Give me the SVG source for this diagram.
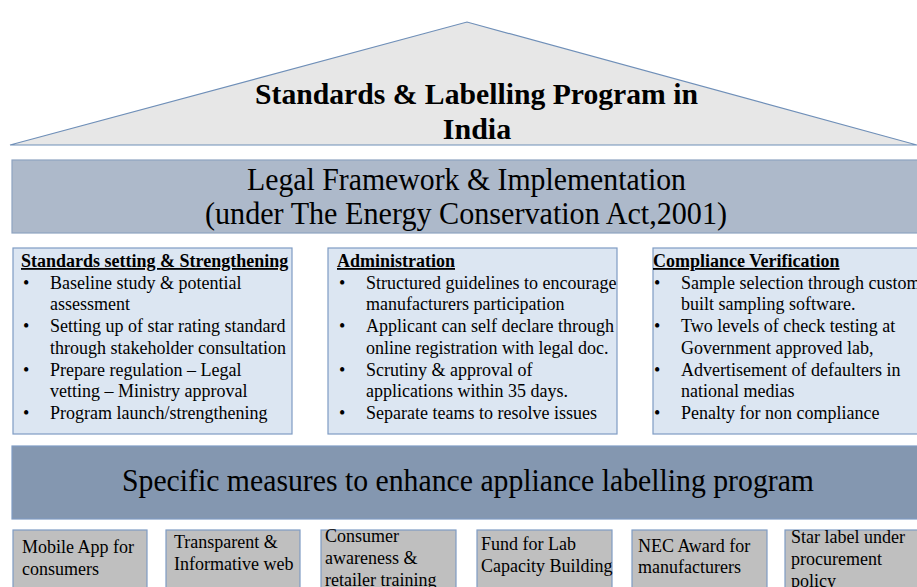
<svg xmlns="http://www.w3.org/2000/svg" width="917" height="587" viewBox="0 0 917 587">
<style>
.t{font-family:"Liberation Serif","Times New Roman",serif;fill:#000}
.big{font-size:31px}
.b18{font-size:18px}
.hd{font-size:18px;font-weight:bold;text-decoration:underline}
.ttl{font-size:30px;font-weight:bold}
.panel{fill:#dce6f2;stroke:#7f9cc4;stroke-width:1.2}
.small{fill:#bfbfbf;stroke:#7f9cc4;stroke-width:1.2}
</style>
<rect width="917" height="587" fill="#ffffff"/>
<g id="roof">
<polygon points="10,145 467,22 917,145" fill="#e7e7e7" stroke="#6f8fb8" stroke-width="1.2"/>
<text class="t ttl" x="255" y="104" textLength="443" lengthAdjust="spacingAndGlyphs">Standards &amp; Labelling Program in</text>
<text class="t ttl" x="477" y="139" text-anchor="middle">India</text>
</g>
<g id="legal">
<rect x="12" y="160" width="910" height="73" fill="#adb9ca" stroke="#8ea3c0" stroke-width="1.2"/>
<text class="t big" x="247" y="190" textLength="439" lengthAdjust="spacingAndGlyphs">Legal Framework &amp; Implementation</text>
<text class="t big" x="205" y="224" textLength="522" lengthAdjust="spacingAndGlyphs">(under The Energy Conservation Act,2001)</text>
</g>
<g id="standards">
<rect class="panel" x="13" y="248" width="279" height="186"/>
<text class="t hd" x="21" y="267">Standards setting &amp; Strengthening</text>
<g class="t b18">
<text x="23" y="289">•</text><text x="50" y="289">Baseline study &amp; potential</text>
<text x="50" y="310">assessment</text>
<text x="23" y="332">•</text><text x="50" y="332">Setting up of star rating standard</text>
<text x="50" y="354">through stakeholder consultation</text>
<text x="23" y="376">•</text><text x="50" y="376">Prepare regulation – Legal</text>
<text x="50" y="397">vetting – Ministry approval</text>
<text x="23" y="419">•</text><text x="50" y="419">Program launch/strengthening</text>
</g>
</g>
<g id="administration">
<rect class="panel" x="328" y="248" width="289" height="186"/>
<text class="t hd" x="337" y="267">Administration</text>
<g class="t b18">
<text x="339" y="289">•</text><text x="366" y="289">Structured guidelines to encourage</text>
<text x="366" y="310">manufacturers participation</text>
<text x="339" y="332">•</text><text x="366" y="332">Applicant can self declare through</text>
<text x="366" y="354">online registration with legal doc.</text>
<text x="339" y="376">•</text><text x="366" y="376">Scrutiny &amp; approval of</text>
<text x="366" y="397">applications within 35 days.</text>
<text x="339" y="419">•</text><text x="366" y="419">Separate teams to resolve issues</text>
</g>
</g>
<g id="compliance">
<rect class="panel" x="653" y="248" width="270" height="186"/>
<text class="t hd" x="653" y="267">Compliance Verification</text>
<g class="t b18">
<text x="654" y="289">•</text><text x="681" y="289">Sample selection through custom</text>
<text x="681" y="310">built sampling software.</text>
<text x="654" y="332">•</text><text x="681" y="332">Two levels of check testing at</text>
<text x="681" y="354">Government approved lab,</text>
<text x="654" y="376">•</text><text x="681" y="376">Advertisement of defaulters in</text>
<text x="681" y="397">national medias</text>
<text x="654" y="419">•</text><text x="681" y="419">Penalty for non compliance</text>
</g>
</g>
<g id="measures">
<rect x="12" y="446" width="910" height="73" fill="#8497b0" stroke="#7f9cc4" stroke-width="1.2"/>
<text class="t big" x="122" y="491" textLength="692" lengthAdjust="spacingAndGlyphs">Specific measures to enhance appliance labelling program</text>
</g>
<g id="mobile">
<rect class="small" x="13" y="530" width="134" height="70"/>
<text class="t b18" x="22" y="553">Mobile App for</text>
<text class="t b18" x="22" y="575">consumers</text>
</g>
<g id="web">
<rect class="small" x="166" y="530" width="134" height="70"/>
<text class="t b18" x="174" y="548">Transparent &amp;</text>
<text class="t b18" x="174" y="570">Informative web</text>
</g>
<g id="awareness">
<rect class="small" x="321" y="530" width="135" height="70"/>
<text class="t b18" x="325" y="542">Consumer</text>
<text class="t b18" x="325" y="564">awareness &amp;</text>
<text class="t b18" x="325" y="586">retailer training</text>
</g>
<g id="fund">
<rect class="small" x="477" y="530" width="135" height="70"/>
<text class="t b18" x="481" y="550">Fund for Lab</text>
<text class="t b18" x="481" y="572">Capacity Building</text>
</g>
<g id="award">
<rect class="small" x="632" y="530" width="135" height="70"/>
<text class="t b18" x="638" y="552">NEC Award for</text>
<text class="t b18" x="638" y="573">manufacturers</text>
</g>
<g id="procurement">
<rect class="small" x="785" y="530" width="140" height="70"/>
<text class="t b18" x="791" y="543">Star label under</text>
<text class="t b18" x="791" y="565">procurement</text>
<text class="t b18" x="791" y="587">policy</text>
</g>
<g id="connectors"/>
</svg>
